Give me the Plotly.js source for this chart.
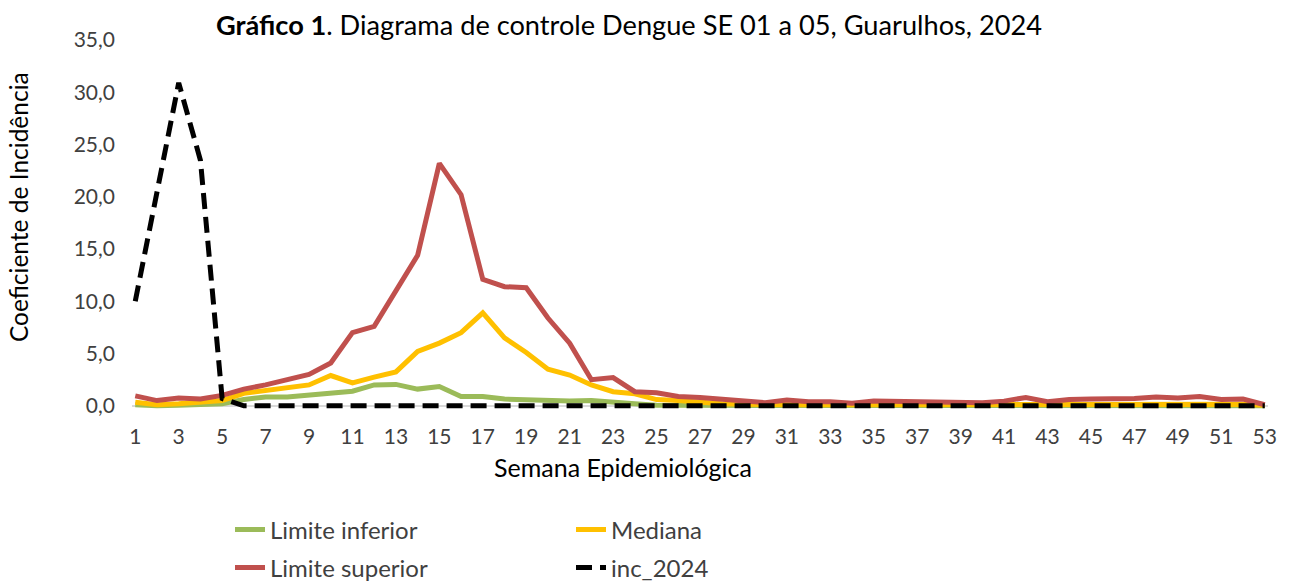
<!DOCTYPE html>
<html>
<head>
<meta charset="utf-8">
<script src="https://cdn.plot.ly/plotly-3.0.1.min.js"></script>
<style>html,body{margin:0;padding:0;background:#fff;}#chart{width:1292px;height:585px;}</style>
</head>
<body>
<div id="chart"></div>
<script>
const weeks = Array.from({length: 53}, (_, i) => i + 1);
const tickWeeks = [1,3,5,7,9,11,13,15,17,19,21,23,25,27,29,31,33,35,37,39,41,43,45,47,49,51,53];

const limiteInferior = [0.1,0.0,0.05,0.1,0.2,0.6,0.85,0.85,1.0,1.2,1.4,2.0,2.05,1.6,1.85,0.9,0.9,0.65,0.55,0.5,0.45,0.5,0.4,0.2,0.05,
  0.05,0.05,0.05,0.05,0.05,0.05,0.05,0.05,0.05,0.05,0.05,0.05,0.05,0.05,0.05,0.05,0.05,0.05,0.05,0.05,0.05,0.05,0.05,0.05,0.05,0.05,0.05,0.0];
const mediana = [0.35,0.1,0.2,0.3,0.5,1.2,1.5,1.7,2.0,2.9,2.2,2.75,3.25,5.2,6.0,7.0,8.9,6.5,5.1,3.5,2.95,2.0,1.35,1.15,0.6,
  0.5,0.3,0.2,0.15,0.1,0.1,0.1,0.1,0.1,0.1,0.1,0.1,0.1,0.1,0.1,0.1,0.2,0.1,0.15,0.15,0.15,0.15,0.2,0.2,0.2,0.15,0.15,0.05];
const limiteSuperior = [0.95,0.5,0.75,0.65,1.0,1.6,2.0,2.5,3.0,4.1,7.0,7.6,10.9,14.4,23.2,20.2,12.1,11.4,11.3,8.4,6.0,2.5,2.7,1.35,1.25,
  0.9,0.8,0.6,0.5,0.3,0.55,0.4,0.4,0.25,0.45,0.4,0.45,0.4,0.3,0.3,0.45,0.8,0.4,0.6,0.65,0.65,0.7,0.85,0.75,0.9,0.6,0.65,0.1];
const inc2024 = [10.0,20.4,30.9,23.5,0.7,0,0,0,0,0,0,0,0,0,0,0,0,0,0,0,0,0,0,0,0,
  0,0,0,0,0,0,0,0,0,0,0,0,0,0,0,0,0,0,0,0,0,0,0,0,0,0,0,0];

const FONT = 'Lato, "Open Sans", sans-serif';
const GREY = '#404040';

const traces = [
  {x: weeks, y: limiteInferior, name: 'Limite inferior', type: 'scatter', mode: 'lines',
   line: {color: '#9BBB59', width: 5}, legend: 'legend'},
  {x: weeks, y: mediana, name: 'Mediana', type: 'scatter', mode: 'lines',
   line: {color: '#FFC000', width: 5}, legend: 'legend'},
  {x: weeks, y: limiteSuperior, name: 'Limite superior', type: 'scatter', mode: 'lines',
   line: {color: '#C0504D', width: 5}, legend: 'legend2'},
  {x: weeks, y: inc2024, name: 'inc_2024', type: 'scatter', mode: 'lines',
   line: {color: '#000000', width: 5, dash: '16px,8px'}, legend: 'legend2'}
];

const legendCommon = {
  orientation: 'h', xanchor: 'left', yanchor: 'middle',
  xref: 'container', yref: 'container',
  font: {family: FONT, size: 24, color: GREY},
  entrywidth: 296, entrywidthmode: 'pixels', itemwidth: 30,
  bgcolor: 'rgba(0,0,0,0)', traceorder: 'normal'
};

const layout = {
  width: 1292, height: 585,
  margin: {l: 132, r: 24, t: 40, b: 175, autoexpand: false},
  paper_bgcolor: '#ffffff', plot_bgcolor: '#ffffff',
  separators: ', ',
  font: {family: FONT, size: 20, color: GREY},
  title: {
    text: '<b>Gráfico 1</b>. Diagrama de controle Dengue SE 01 a 05, Guarulhos, 2024',
    font: {family: FONT, size: 27.2, color: '#000000'},
    xref: 'container', yref: 'container', x: 629/1292, xanchor: 'center', y: 1 - 25/585, yanchor: 'middle'
  },
  xaxis: {
    range: [0.85, 53.15], tickmode: 'array', tickvals: tickWeeks, ticktext: tickWeeks.map(String),
    showgrid: false, zeroline: false, showline: false, ticks: '',
    ticklabelstandoff: 12,
    tickfont: {family: FONT, size: 21, color: GREY}, fixedrange: true
  },
  yaxis: {
    range: [-0.4, 35], dtick: 5, tick0: 0, tickformat: '.1f',
    showgrid: false, showline: false, ticks: '',
    zeroline: true, zerolinecolor: '#d9d9d9', zerolinewidth: 1.5,
    ticklabelstandoff: 16,
    tickfont: {family: FONT, size: 21, color: GREY}, fixedrange: true
  },
  legend: Object.assign({}, legendCommon, {x: 230/1292, y: 1 - 530/585}),
  legend2: Object.assign({}, legendCommon, {x: 230/1292, y: 1 - 568/585}),
  showlegend: true,
  annotations: [
    {text: 'Semana Epidemiológica', xref: 'paper', yref: 'paper',
     x: (623-132)/1136, y: (410-467)/370, xanchor: 'center', yanchor: 'middle',
     showarrow: false, font: {family: FONT, size: 25, color: '#000000'}},
    {text: 'Coeficiente de Incidência', xref: 'paper', yref: 'paper', textangle: -90,
     x: (18-132)/1136, y: (410-207)/370, xanchor: 'center', yanchor: 'middle',
     showarrow: false, font: {family: FONT, size: 24.5, color: '#000000'}}
  ]
};

Plotly.newPlot('chart', traces, layout, {displayModeBar: false, staticPlot: true});
</script>
</body>
</html>
